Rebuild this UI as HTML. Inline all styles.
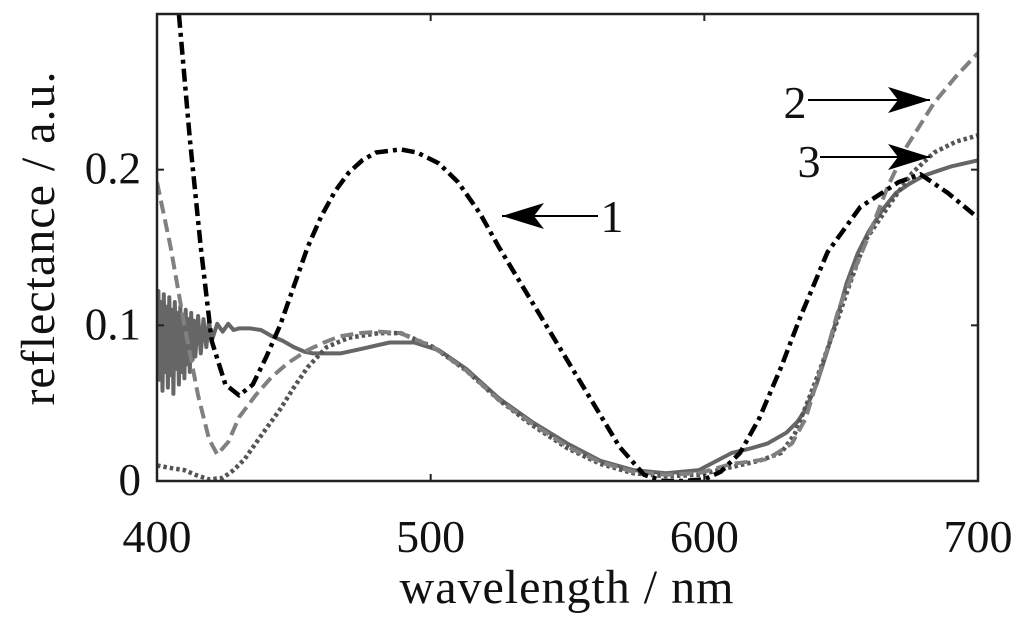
<!DOCTYPE html>
<html><head><meta charset="utf-8"><style>
html,body{margin:0;padding:0;background:#fff;}
svg{display:block;font-family:"Liberation Serif",serif;}
</style></head><body>
<svg id="chart" width="1024" height="627" viewBox="0 0 1024 627" xmlns="http://www.w3.org/2000/svg">
<g id="plot"></g>
</svg>
<script>
const xTicks=[400,500,600,700];
const yTicks=[0,0.1,0.2];
const yTickLabels=["0","0.1","0.2"];
const w1=[400,405,408,412,416,420,425,430,435,440,445,450,455,460,465,470,475,480,489,495,503,510,518,525,536,547,558,569,578,585,592,600,606,613,620,628,635,645,657,671,679,689,700];
const v1=[0.42,0.35,0.30,0.22,0.15,0.09,0.062,0.055,0.062,0.08,0.10,0.125,0.15,0.17,0.186,0.198,0.206,0.211,0.213,0.211,0.204,0.192,0.172,0.150,0.118,0.086,0.054,0.022,0.004,0.0,0.0,0.001,0.006,0.018,0.04,0.073,0.105,0.147,0.176,0.192,0.197,0.185,0.169];
const w2=[400,405,410,415,419,422,426,430,436,442,448,455,461,467,474,481,489,501,513,525,537,550,562,574,586,598,610,623,632,637,641,645,649,654,659,667,674,684,692,700];
const v2=[0.192,0.15,0.10,0.055,0.027,0.017,0.025,0.041,0.055,0.067,0.076,0.084,0.089,0.093,0.095,0.096,0.095,0.086,0.071,0.052,0.037,0.022,0.012,0.006,0.004,0.005,0.011,0.014,0.024,0.04,0.063,0.085,0.11,0.132,0.153,0.189,0.215,0.243,0.26,0.275];
const w3=[400,403,406,410,414,419,424,428,432,436,440,445,450,455,462,470,481,489,501,513,525,537,550,562,574,586,598,610,620,628,633,638,643,647,653,659,669,676,684,692,700];
const v3=[0.010,0.009,0.008,0.007,0.004,0.001,0.002,0.007,0.014,0.024,0.034,0.046,0.06,0.073,0.086,0.092,0.095,0.095,0.086,0.071,0.052,0.036,0.021,0.011,0.005,0.003,0.004,0.009,0.013,0.018,0.03,0.052,0.075,0.095,0.126,0.155,0.181,0.198,0.211,0.218,0.222];
const w4=[400,400.5,401,401.5,402,402.5,403,403.5,404,404.5,405,405.5,406,406.5,407,407.5,408,408.5,409,409.5,410,410.5,411,411.5,412,412.5,413,413.5,414,415,416,417,418,419,420,422,424,426,428,430,434,438,442,446,450,454,457,462,467,475,485,494,503,513,525,537,550,562,574,586,598,610,617,623,630,634,637,641,645,649,652,656,660,665,670,675,680,685,690,695,700];
const v4=[0.09,0.122,0.065,0.115,0.058,0.12,0.07,0.112,0.06,0.118,0.068,0.11,0.056,0.115,0.072,0.108,0.062,0.112,0.07,0.105,0.066,0.11,0.075,0.104,0.07,0.108,0.078,0.103,0.08,0.106,0.082,0.104,0.086,0.103,0.09,0.101,0.096,0.101,0.097,0.098,0.098,0.097,0.093,0.09,0.086,0.083,0.082,0.082,0.082,0.085,0.089,0.089,0.084,0.072,0.053,0.038,0.024,0.013,0.007,0.005,0.007,0.018,0.021,0.024,0.031,0.038,0.046,0.062,0.084,0.108,0.127,0.146,0.16,0.174,0.185,0.191,0.196,0.199,0.202,0.204,0.206];
const L=157,R=978,T=14,B=481,X0=400,X1=700,Y0=0,Y1=0.3;
const sx=v=>L+(v-X0)/(X1-X0)*(R-L);
const sy=v=>B-(v-Y0)/(Y1-Y0)*(B-T);
const NS="http://www.w3.org/2000/svg";
const g=document.getElementById('plot');
function mk(t,a,p){const e=document.createElementNS(NS,t);for(const k in a)e.setAttribute(k,a[k]);(p||g).appendChild(e);return e;}
const cp=mk('clipPath',{id:'clip'});
mk('rect',{x:L,y:T,width:R-L,height:B-T},cp);
function series(ws,vs,name,col,wd,dash){
  let d='';ws.forEach((w,i)=>{d+=(i?'L':'M')+sx(w).toFixed(1)+','+sy(vs[i]).toFixed(1);});
  const p=mk('path',{d:d,fill:'none',stroke:col,'stroke-width':wd,'stroke-dasharray':dash,'clip-path':'url(#clip)','stroke-linejoin':'round'});
  
  
}
series(w4,v4,'series-solid','#666',4,'none');
series(w3,v3,'series-3-dotted','#555',4.5,'3.5 3');
series(w2,v2,'series-2-dashed','#808080',4,'13 6');
series(w1,v1,'series-1-dashdot','#000',4.5,'13 5 4 5');
const frame=mk('rect',{x:L,y:T,width:R-L,height:B-T,fill:'none',stroke:'#222','stroke-width':2.5});


xTicks.forEach(t=>{
  mk('line',{x1:sx(t),x2:sx(t),y1:B,y2:B-7,stroke:'#222','stroke-width':2});
  mk('line',{x1:sx(t),x2:sx(t),y1:T,y2:T+7,stroke:'#222','stroke-width':2});
  const tx=mk('text',{x:sx(t),y:552,'font-size':46,'text-anchor':'middle',fill:'#111'});
  tx.textContent=t;
  
  
});
yTicks.forEach((t,i)=>{
  mk('line',{x1:L,x2:L+7,y1:sy(t),y2:sy(t),stroke:'#222','stroke-width':2});
  mk('line',{x1:R,x2:R-7,y1:sy(t),y2:sy(t),stroke:'#222','stroke-width':2});
  const tx=mk('text',{x:141,y:sy(t)+14,'font-size':45,'text-anchor':'end',fill:'#111'});
  tx.textContent=yTickLabels[i];
  
  
});
const xt=mk('text',{x:567,y:603,'font-size':48,'text-anchor':'middle',fill:'#111','letter-spacing':'1'});
xt.textContent='wavelength / nm';


const yt=mk('text',{x:54,y:238,'font-size':48,'text-anchor':'middle',fill:'#111','letter-spacing':'1',transform:'rotate(-90 54 238)'});
yt.textContent='reflectance / a.u.';


function ann(lbl,tx,ty,x1,x2,y,name){
  const l=mk('line',{x1:x1,x2:x2,y1:y,y2:y,stroke:'#000','stroke-width':2});
  
  
  const dir=x2>x1?1:-1;
  mk('path',{d:`M${x2},${y} L${x2-dir*42},${y-13} L${x2-dir*32},${y} L${x2-dir*42},${y+13} Z`,fill:'#000'});
  const t=mk('text',{x:tx,y:ty,'font-size':46,'text-anchor':'middle',fill:'#111'});
  t.textContent=lbl;
  
  
}
ann('1',612,232,598,502,216,'annotation-1');
ann('2',795,118,808,930,100,'annotation-2');
ann('3',809,177,820,930,157,'annotation-3');
</script>
</body></html>
